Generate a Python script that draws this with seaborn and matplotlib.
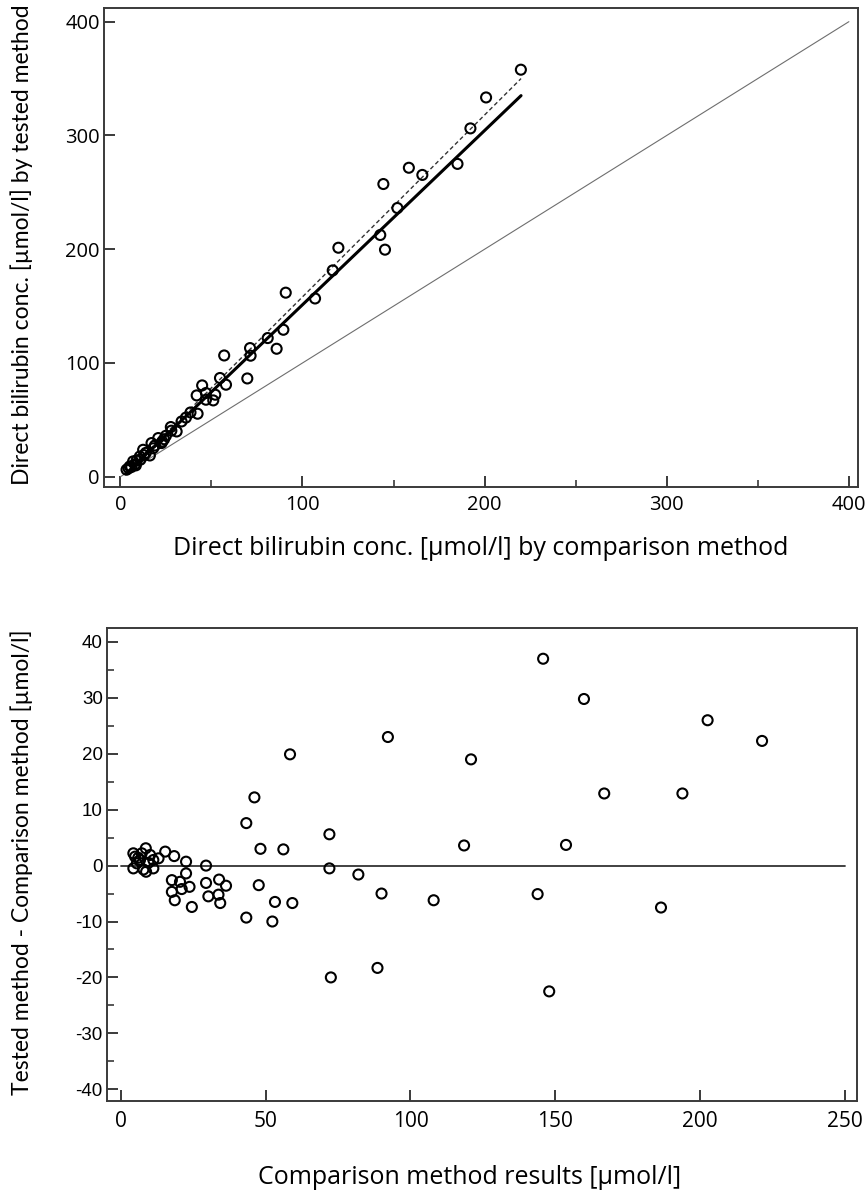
"""
Method comparison figure: direct bilirubin, tested vs comparison method,
plus the difference plot underneath.
"""

import numpy as np
import pandas as pd
import matplotlib
matplotlib.use("Agg")
import matplotlib.pyplot as plt
import seaborn as sns
from matplotlib.ticker import MultipleLocator

# ============================================================
# Data
# ============================================================
# upper panel: tested method vs comparison method
cmp_top = [219.9, 200.8, 192.2, 185.1, 165.8, 158.4, 152.1, 144.4, 142.7, 145.3,
           119.7, 116.6, 106.9, 90.8, 89.5, 85.8, 80.9, 71.2, 71.5, 69.7,
           57.0, 58.0, 54.7, 44.9, 41.9, 47.0, 52.1, 51.0, 47.0, 42.4,
           33.6, 27.7, 30.9, 20.8, 22.6, 17.1, 12.5, 16.2, 10.7, 7.0,
           3.4, 5.2, 4.5, 6.0, 8.0, 9.0, 11.0, 13.0, 14.0, 18.0,
           19.0, 24.0, 25.0, 28.0, 23.0, 8.5, 36.0, 38.5]
tested_top = [357.8, 333.4, 306.2, 275.0, 265.3, 271.6, 236.2, 257.3, 212.5, 199.6,
              201.3, 181.4, 156.7, 161.8, 129.2, 112.5, 121.9, 113.1, 106.4, 86.4,
              106.6, 80.9, 86.8, 80.3, 71.5, 73.6, 72.1, 67.1, 67.7, 55.4,
              48.6, 43.7, 39.8, 34.0, 29.6, 29.6, 23.7, 18.7, 17.8, 13.5,
              6.2, 9.1, 7.5, 8.5, 11.0, 14.5, 15.0, 19.0, 21.0, 25.0,
              27.5, 33.0, 36.0, 40.5, 31.0, 10.0, 52.0, 56.5]

# fitted lines drawn in the upper panel
fit_x = [3.0, 220.0]
fit_solid = [2.6, 335.0]
fit_dashed = [3.0, 350.0]
identity = [0.0, 400.0]

# lower panel: difference plot
cmp_diff = [145.8, 159.9, 202.6, 221.4, 166.9, 193.9, 153.7, 143.9, 186.5, 147.9,
            88.6, 72.5, 58.4, 92.2, 120.9, 72.0, 72.0, 82.0, 90.0, 108.0,
            118.5, 46.1, 43.3, 48.2, 56.1, 47.6, 53.2, 59.2, 43.3, 52.3,
            4.3, 4.9, 6.6, 7.2, 8.6, 10.1, 11.2, 13.0, 15.3, 18.4,
            22.5, 29.4, 4.3, 7.8, 11.2, 8.7, 22.5, 17.6, 20.4, 23.7,
            17.6, 21.0, 18.6, 29.4, 33.9, 36.3, 30.2, 33.7, 34.3, 24.5,
            6.0, 9.5, 5.5]
diff = [37.0, 29.8, 26.0, 22.3, 12.9, 12.9, 3.7, -5.1, -7.5, -22.5,
        -18.3, -20.0, 19.9, 23.0, 19.0, 5.6, -0.5, -1.6, -5.0, -6.2,
        3.6, 12.2, 7.6, 3.0, 2.9, -3.5, -6.5, -6.7, -9.3, -10.0,
        2.2, 1.6, 1.0, 2.2, 3.1, 1.9, 1.0, 1.3, 2.5, 1.7,
        0.7, 0.0, -0.5, -0.7, -0.5, -1.1, -1.4, -2.6, -2.9, -3.8,
        -4.7, -4.2, -6.2, -3.1, -2.5, -3.6, -5.5, -5.2, -6.7, -7.4,
        1.4, 0.5, 0.4]
zero_x = [0.0, 250.0]
zero_y = [0.0, 0.0]

X_TICKS_TOP = [0, 100, 200, 300, 400]
Y_TICKS_TOP = [0, 100, 200, 300, 400]
X_TICKS_BOT = [0, 50, 100, 150, 200, 250]
Y_TICKS_BOT = [-40, -30, -20, -10, 0, 10, 20, 30, 40]

# ============================================================
# Style
# ============================================================
sns.set_theme(style="ticks")
plt.rcParams.update({
    "font.family": ["Open Sans", "DejaVu Sans"],
    "axes.unicode_minus": False,
    "text.color": "black",
    "axes.labelcolor": "black",
    "axes.edgecolor": "#3a3a3a",
    "axes.linewidth": 1.4,
    "xtick.direction": "in",
    "ytick.direction": "in",
    "xtick.color": "#3a3a3a",
    "ytick.color": "#3a3a3a",
    "xtick.labelcolor": "black",
    "ytick.labelcolor": "black",
    "xtick.major.width": 1.4,
    "ytick.major.width": 1.4,
    "xtick.minor.width": 1.2,
    "ytick.minor.width": 1.2,
    "xtick.major.size": 8,
    "ytick.major.size": 8,
    "xtick.minor.size": 5,
    "ytick.minor.size": 5,
})

XLABEL_FONT = dict(fontsize=18, family=["Open Sans", "DejaVu Sans"], color="black")
YLABEL_FONT = dict(fontsize=16.5, family=["Lato", "DejaVu Sans"], color="black")
TICK_FS = 14.5
MARKER = dict(marker="o", s=52, facecolor="none", edgecolor="black", linewidth=1.5)

fig = plt.figure(figsize=(8.65, 11.98), dpi=100)

# ------------------------------------------------------------
# Upper panel
# ------------------------------------------------------------
ax1 = fig.add_axes([0.1202, 0.5935, 0.8717, 0.3998])
top = pd.DataFrame({"comparison": cmp_top, "tested": tested_top})
ax1.plot(identity, identity, color="#6e6e6e", lw=0.8, zorder=1)
ax1.plot(fit_x, fit_dashed, color="#333333", lw=1.0, ls=(0, (3, 2)), zorder=2)
ax1.plot(fit_x, fit_solid, color="black", lw=2.2, zorder=2)
sns.scatterplot(data=top, x="comparison", y="tested", ax=ax1, zorder=3, **MARKER)
ax1.set_xlim(-9, 405)
ax1.set_ylim(-9, 412)
ax1.set_xticks(X_TICKS_TOP)
ax1.set_yticks(Y_TICKS_TOP)
ax1.xaxis.set_minor_locator(MultipleLocator(50))
ax1.tick_params(axis="x", labelsize=TICK_FS, pad=6)
ax1.tick_params(axis="y", labelsize=TICK_FS, pad=3)
ax1.set_xlabel("Direct bilirubin conc. [µmol/l] by comparison method", **XLABEL_FONT)
ax1.set_ylabel("Direct bilirubin conc. [µmol/l] by tested method", **YLABEL_FONT)
ax1.xaxis.set_label_coords(0.5, -0.102)
ax1.yaxis.set_label_coords(-0.094, 0.506)

# ------------------------------------------------------------
# Lower panel
# ------------------------------------------------------------
ax2 = fig.add_axes([0.1237, 0.0810, 0.8671, 0.3948])
bot = pd.DataFrame({"comparison": cmp_diff, "difference": diff})
ax2.plot(zero_x, zero_y, color="#333333", lw=1.3, zorder=1)
sns.scatterplot(data=bot, x="comparison", y="difference", ax=ax2, zorder=3, **MARKER)
ax2.set_xlim(-4.8, 254.2)
ax2.set_ylim(-42.1, 42.5)
ax2.set_xticks(X_TICKS_BOT)
ax2.set_yticks(Y_TICKS_BOT)
ax2.yaxis.set_minor_locator(MultipleLocator(5))
ax2.tick_params(axis="x", labelsize=15, pad=7)
ax2.tick_params(axis="y", labelsize=13.5, pad=3)
for lab in ax2.get_yticklabels():
    lab.set_family(["Liberation Sans", "DejaVu Sans"])
ax2.set_xlabel("Comparison method results [µmol/l]", **XLABEL_FONT)
ax2.set_ylabel("Tested method - Comparison method [µmol/l]", **YLABEL_FONT)
ax2.xaxis.set_label_coords(0.484, -0.136)
ax2.yaxis.set_label_coords(-0.099, 0.505)

fig.savefig("out.png", dpi=100)
